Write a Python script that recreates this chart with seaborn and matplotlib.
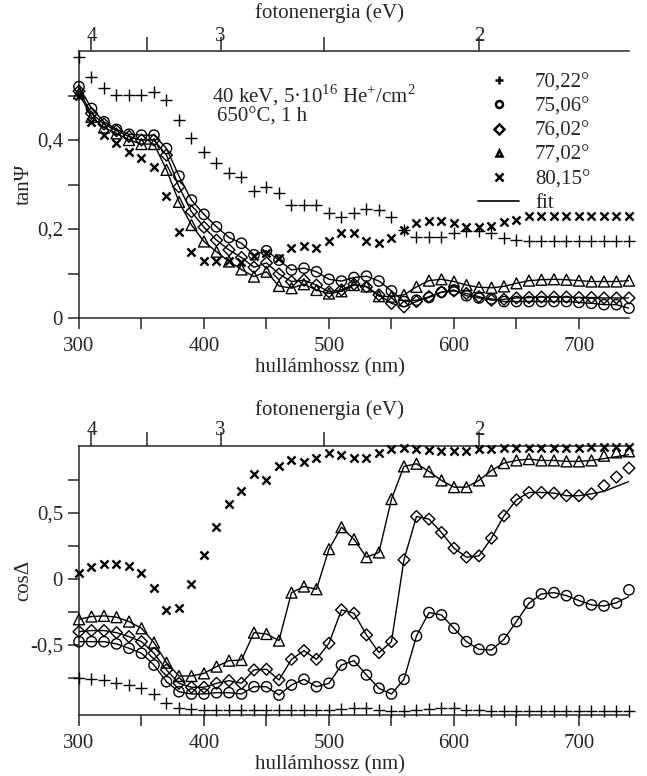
import numpy as np
import pandas as pd
import matplotlib
matplotlib.use('Agg')
import matplotlib.pyplot as plt
import seaborn as sns
from matplotlib.ticker import FixedLocator, MultipleLocator, FuncFormatter
from matplotlib.lines import Line2D

# hullámhossz, 10 nm lépés
wl = list(range(300, 741, 10))

labels = ['70,22°', '75,06°', '76,02°', '77,02°', '80,15°']

# tan Psi
tan_70 = [0.587, 0.542, 0.518, 0.501, 0.501, 0.502, 0.509, 0.490, 0.446, 0.404,
          0.372, 0.348, 0.325, 0.316, 0.286, 0.295, 0.280, 0.254, 0.254, 0.254,
          0.236, 0.228, 0.235, 0.244, 0.243, 0.227, 0.198, 0.183, 0.183, 0.183,
          0.192, 0.195, 0.195, 0.190, 0.180, 0.175, 0.172, 0.172, 0.172, 0.172,
          0.172, 0.172, 0.172, 0.172, 0.172]
tan_75 = [0.520, 0.471, 0.441, 0.424, 0.413, 0.411, 0.411, 0.381, 0.319, 0.265,
          0.233, 0.205, 0.181, 0.168, 0.142, 0.151, 0.130, 0.108, 0.112, 0.104,
          0.087, 0.083, 0.091, 0.094, 0.083, 0.061, 0.037, 0.040, 0.046, 0.058,
          0.063, 0.050, 0.045, 0.043, 0.037, 0.037, 0.037, 0.037, 0.037, 0.037,
          0.035, 0.033, 0.030, 0.030, 0.022]
tan_76 = [0.510, 0.460, 0.436, 0.421, 0.408, 0.400, 0.400, 0.366, 0.295, 0.239,
          0.204, 0.175, 0.153, 0.136, 0.114, 0.124, 0.099, 0.082, 0.085, 0.074,
          0.059, 0.063, 0.076, 0.070, 0.052, 0.033, 0.025, 0.037, 0.048, 0.058,
          0.061, 0.055, 0.048, 0.040, 0.042, 0.045, 0.046, 0.047, 0.047, 0.047,
          0.046, 0.046, 0.045, 0.045, 0.045]
tan_77 = [0.505, 0.452, 0.428, 0.415, 0.400, 0.391, 0.391, 0.333, 0.261, 0.209,
          0.172, 0.149, 0.127, 0.109, 0.093, 0.104, 0.072, 0.067, 0.076, 0.063,
          0.055, 0.060, 0.074, 0.071, 0.049, 0.048, 0.052, 0.070, 0.084, 0.087,
          0.082, 0.074, 0.069, 0.068, 0.071, 0.078, 0.084, 0.086, 0.087, 0.086,
          0.084, 0.082, 0.082, 0.082, 0.084]
tan_80 = [0.500, 0.441, 0.411, 0.393, 0.374, 0.359, 0.339, 0.274, 0.194, 0.149,
          0.129, 0.128, 0.128, 0.125, 0.140, 0.145, 0.135, 0.157, 0.161, 0.157,
          0.172, 0.190, 0.190, 0.172, 0.168, 0.179, 0.198, 0.213, 0.219, 0.219,
          0.213, 0.205, 0.205, 0.207, 0.215, 0.220, 0.229, 0.229, 0.229, 0.229,
          0.229, 0.229, 0.229, 0.229, 0.229]

# cos Delta
cos_70 = [-0.752, -0.760, -0.765, -0.785, -0.803, -0.828, -0.871, -0.942, -0.975, -0.987,
          -0.990, -0.990, -0.990, -0.990, -0.990, -0.990, -0.990, -0.990, -0.990, -0.990,
          -0.990, -0.985, -0.980, -0.980, -0.990, -1.000, -1.000, -0.995, -0.985, -0.980,
          -0.980, -0.990, -0.995, -1.000, -1.000, -1.000, -1.000, -1.000, -1.000, -1.000,
          -1.000, -1.000, -1.000, -1.000, -1.000]
cos_75 = [-0.475, -0.475, -0.475, -0.492, -0.525, -0.563, -0.652, -0.778, -0.854, -0.871,
          -0.871, -0.861, -0.861, -0.871, -0.816, -0.816, -0.879, -0.803, -0.760, -0.816,
          -0.790, -0.652, -0.619, -0.727, -0.828, -0.871, -0.760, -0.432, -0.255, -0.273,
          -0.374, -0.475, -0.533, -0.538, -0.457, -0.323, -0.184, -0.114, -0.104, -0.127,
          -0.164, -0.197, -0.205, -0.184, -0.083]
cos_76 = [-0.399, -0.391, -0.391, -0.407, -0.437, -0.475, -0.563, -0.689, -0.790, -0.820,
          -0.820, -0.790, -0.770, -0.790, -0.689, -0.684, -0.765, -0.609, -0.543, -0.609,
          -0.487, -0.235, -0.260, -0.424, -0.558, -0.475, 0.144, 0.472, 0.452, 0.351,
          0.232, 0.164, 0.174, 0.308, 0.477, 0.598, 0.654, 0.654, 0.649, 0.629,
          0.629, 0.644, 0.705, 0.770, 0.838]
cos_77 = [-0.306, -0.285, -0.280, -0.290, -0.323, -0.374, -0.482, -0.634, -0.735, -0.735,
          -0.715, -0.664, -0.619, -0.614, -0.407, -0.417, -0.467, -0.104, -0.058, -0.078,
          0.225, 0.391, 0.300, 0.164, 0.200, 0.604, 0.851, 0.871, 0.813, 0.745,
          0.694, 0.694, 0.745, 0.820, 0.876, 0.896, 0.906, 0.896, 0.896, 0.889,
          0.889, 0.896, 0.932, 0.957, 0.965]
cos_80 = [0.048, 0.093, 0.114, 0.114, 0.098, 0.048, -0.071, -0.235, -0.222, -0.038,
          0.182, 0.391, 0.568, 0.662, 0.793, 0.750, 0.856, 0.902, 0.881, 0.914,
          0.950, 0.939, 0.914, 0.914, 0.955, 0.980, 0.990, 0.985, 0.977, 0.964,
          0.964, 0.970, 0.985, 0.985, 0.990, 0.990, 0.990, 0.990, 0.990, 0.990,
          0.990, 0.998, 0.998, 0.998, 0.998]

# illesztett görbék (a mérésre ráülnek, a végükön eltérnek)
fit_tan_75, fit_tan_76, fit_tan_77 = tan_75, tan_76, tan_77
fit_cos_75 = cos_75[:-2] + [-0.180, -0.134]
fit_cos_76 = cos_76[:-3] + [0.662, 0.700, 0.737]
fit_cos_77 = cos_77[:-3] + [0.910, 0.925, 0.940]

#%%
sns.set_style('ticks')
plt.rcParams['font.family'] = ['Liberation Serif', 'DejaVu Serif']
plt.rcParams['mathtext.fontset'] = 'custom'
plt.rcParams['mathtext.rm'] = 'Liberation Serif'
plt.rcParams['font.size'] = 15
plt.rcParams['axes.linewidth'] = 1.1

# marker, méret, kitöltött-e, vonalvastagság
markers = [('+', 85, False, 1.0), ('o', 55, True, 1.0), ('D', 36, True, 1.0),
           ('^', 62, True, 1.0), ('x', 34, False, 1.7)]


def nm2ev(x):
    x = np.asarray(x, dtype=float)
    with np.errstate(divide='ignore'):
        return 1239.84 / x


def draw(ax, series, fits):
    for fit in fits:
        sns.lineplot(x=wl, y=fit, ax=ax, color='k', lw=1.0, zorder=2)
    for vals, (mk, s, filled, lw) in zip(series, markers):
        if filled:
            sns.scatterplot(x=wl, y=vals, ax=ax, marker=mk, s=s, facecolor='none',
                            edgecolor='k', linewidth=lw, clip_on=False, zorder=3)
        else:
            sns.scatterplot(x=wl, y=vals, ax=ax, marker=mk, s=s, color='k',
                            linewidth=lw, clip_on=False, zorder=3)
    ax.set_xlim(300, 740)
    ax.xaxis.set_major_locator(MultipleLocator(100))
    ax.xaxis.set_minor_locator(MultipleLocator(50))
    ax.yaxis.set_major_formatter(FuncFormatter(lambda v, p: f'{v:g}'.replace('.', ',')))
    ax.tick_params(which='both', direction='out', length=8, width=1.1)
    ax.tick_params(axis='x', which='both', pad=6)
    ax.set_xlabel('hullámhossz (nm)')
    ax.xaxis.set_label_coords(0.456, -0.15)
    sns.despine(ax=ax, right=True, top=True)
    sec = ax.secondary_xaxis('top', functions=(nm2ev, nm2ev))
    sec.set_xticks([4, 3, 2])
    sec.xaxis.set_minor_locator(FixedLocator([3.5, 2.5]))
    sec.tick_params(which='both', direction='out', length=10, width=1.1, pad=-6)
    sec.spines['top'].set_linewidth(1.1)


fig = plt.figure(figsize=(6.47, 7.76), dpi=100)
ax1 = fig.add_axes([0.1221, 0.5902, 0.850, 0.344])
ax2 = fig.add_axes([0.1221, 0.0786, 0.850, 0.3466])

draw(ax1, [tan_70, tan_75, tan_76, tan_77, tan_80], [fit_tan_75, fit_tan_76, fit_tan_77])
ax1.set_ylim(0, 0.6)
ax1.yaxis.set_major_locator(FixedLocator([0, 0.2, 0.4]))
ax1.yaxis.set_minor_locator(FixedLocator([0.1, 0.3, 0.5]))
ax1.set_ylabel('tanΨ')
ax1.yaxis.set_label_coords(-0.083, 0.5)
ax1.text(0.456, 1.142, 'fotonenergia (eV)', transform=ax1.transAxes, ha='center', va='center')
ax1.text(0.242, 0.835, '40 keV, 5·10$^{16}$ He$^{+}$/cm$^{2}$', transform=ax1.transAxes,
         va='center', ha='left')
ax1.text(0.251, 0.752, '650°C, 1 h', transform=ax1.transAxes, va='center', ha='left')

handles = []
for mk, s, filled, lw in markers:
    handles.append(Line2D([], [], ls='none', marker=mk, color='k', mfc='none',
                          ms=6 if mk in '+x' else 5, mew=1.8))
handles.append(Line2D([], [], color='k', lw=1.2))
ax1.legend(handles, labels + ['fit'], loc='upper left', bbox_to_anchor=(0.725, 0.918),
           frameon=False, handlelength=2.0, handletextpad=0.75, labelspacing=0.22,
           borderaxespad=0, borderpad=0)

draw(ax2, [cos_70, cos_75, cos_76, cos_77, cos_80], [fit_cos_75, fit_cos_76, fit_cos_77])
ax2.set_ylim(-1.03, 1.005)
ax2.yaxis.set_major_locator(FixedLocator([-0.5, 0, 0.5]))
ax2.yaxis.set_minor_locator(FixedLocator([-0.75, -0.25, 0.25, 0.75]))
ax2.set_ylabel('cosΔ')
ax2.yaxis.set_label_coords(-0.083, 0.5)
ax2.text(0.456, 1.134, 'fotonenergia (eV)', transform=ax2.transAxes, ha='center', va='center')

fig.savefig('out.png', dpi=100)
